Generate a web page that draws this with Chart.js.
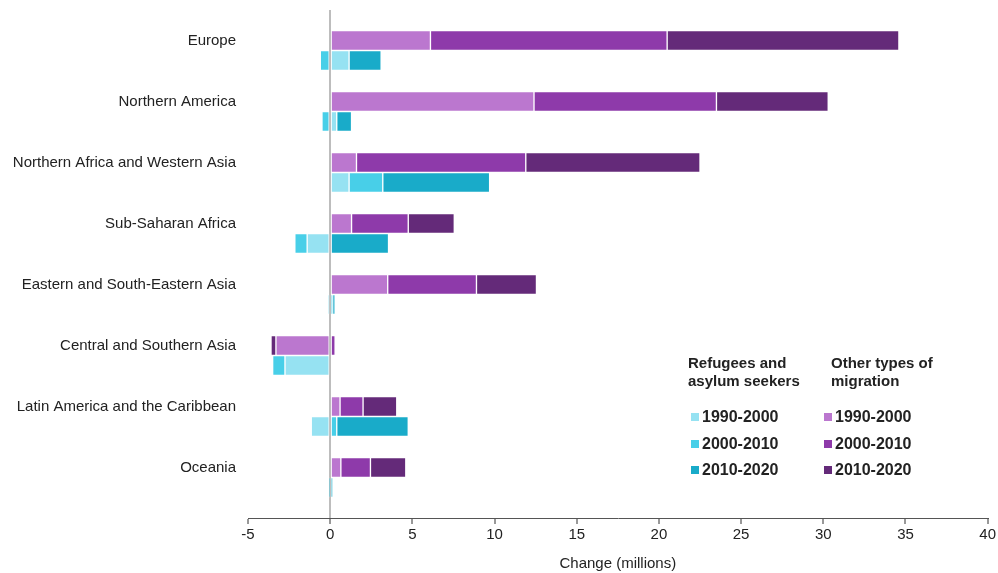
<!DOCTYPE html>
<html>
<head>
<meta charset="utf-8">
<script src="https://cdn.jsdelivr.net/npm/chart.js@4.4.1/dist/chart.umd.min.js"></script>
<style>
  body { margin: 0; background: #fff; font-family: "Liberation Sans", Arial, sans-serif; }
  #wrap { position: relative; width: 998px; height: 573px; }
  .lg { position: absolute; font-weight: bold; font-size: 15px; color: #222; line-height: 18px; white-space: nowrap; }
  .lg.item { font-size: 16px; }
  .lg .sw { display: inline-block; width: 8px; height: 8px; margin-right: 3px; vertical-align: 1px; }
</style>
</head>
<body>
<div id="wrap">
  <canvas id="chart" width="998" height="573"></canvas>
  <div id="legend"></div>
</div>
<script>
const categories = [
  "Europe",
  "Northern America",
  "Northern Africa and Western Asia",
  "Sub-Saharan Africa",
  "Eastern and South-Eastern Asia",
  "Central and Southern Asia",
  "Latin America and the Caribbean",
  "Oceania"
];
const periods = ["1990-2000", "2000-2010", "2010-2020"];

// other types of migration
const other1990 = [6.1, 12.4, 1.6, 1.3, 3.5, -3.3, 0.6, 0.65];
const other2000 = [14.4, 11.1, 10.3, 3.45, 5.4, 0.3, 1.4, 1.8];
const other2010 = [14.1, 6.8, 10.6, 2.8, 3.65, -0.3, 2.05, 2.15];

// refugees and asylum seekers
const ref1990 = [1.15, 0.4, 1.15, -1.4, -0.1, -2.75, -1.15, 0];
const ref2000 = [-0.6, -0.5, 2.05, -0.75, 0.15, -0.75, 0.4, -0.05];
const ref2010 = [1.95, 0.9, 6.5, 3.55, 0.15, 0, 4.35, 0.15];

const xTicks = [-5, 0, 5, 10, 15, 20, 25, 30, 35, 40];

const refColors = ["#96e2f2", "#48cfe8", "#19abc9"];
const otherColors = ["#bb77cf", "#8e3aaa", "#642a79"];

function toPoints(arr) {
  return arr.map((v, i) => ({ x: v, y: i }));
}

const otherSeries = [other1990, other2000, other2010];
const refSeries = [ref1990, ref2000, ref2010];

const datasets = [];
otherSeries.forEach((s, k) => datasets.push({
  label: "Other " + periods[k], stack: "other", data: toPoints(s),
  backgroundColor: otherColors[k]
}));
refSeries.forEach((s, k) => datasets.push({
  label: "Refugees " + periods[k], stack: "ref", data: toPoints(s),
  backgroundColor: refColors[k]
}));
datasets.forEach(d => {
  d.borderColor = "rgba(255,255,255,0.3)";
  d.borderWidth = 1;
  d.borderSkipped = false;
  d.barThickness = 20;
});

const font = { family: "'Liberation Sans', Arial, sans-serif", size: 15 };

new Chart(document.getElementById("chart"), {
  type: "bar",
  data: { datasets },
  options: {
    indexAxis: "y",
    responsive: false,
    animation: false,
    layout: { padding: { top: 10, right: 8, left: 0, bottom: 0 } },
    plugins: { legend: { display: false }, tooltip: { enabled: false } },
    scales: {
      x: {
        type: "linear",
        stacked: true,
        min: -5, max: 40,
        afterBuildTicks: s => { s.ticks = xTicks.map(v => ({ value: v })); },
        afterFit: s => { s.height = 55; },
        ticks: { font, color: "#222", padding: 2 },
        grid: {
          color: c => c.tick && c.tick.value === 0 ? "#bdbdbd" : "rgba(0,0,0,0)",
          lineWidth: 2,
          tickColor: "#333",
          tickWidth: 1,
          tickLength: 6
        },
        border: { display: true, color: "#555", width: 1 },
        title: { display: true, text: "Change (millions)", font, color: "#222", padding: { top: 4, bottom: 0 } }
      },
      y: {
        type: "linear",
        reverse: true,
        offset: false,
        bounds: "data",
        min: -0.664, max: 7.664,
        afterBuildTicks: s => { s.ticks = categories.map((c, i) => ({ value: i })); },
        afterFit: s => { s.width = 248; s.paddingTop = 0; s.paddingBottom = 0; },
        ticks: {
          autoSkip: false,
          font, color: "#222", padding: 12,
          labelOffset: -10,
          callback: v => categories[v] || ""
        },
        grid: { display: false, drawTicks: false },
        border: { display: false }
      }
    }
  }
});

// legend, two columns with headings
const legend = document.getElementById("legend");
function addText(x, y, html, cls) {
  const d = document.createElement("div");
  d.className = "lg" + (cls ? " " + cls : "");
  d.style.left = x + "px";
  d.style.top = y + "px";
  d.innerHTML = html;
  legend.appendChild(d);
}
addText(688, 354, "Refugees and<br>asylum seekers");
addText(831, 354, "Other types of<br>migration");
periods.forEach((p, k) => {
  const y = 408 + k * 26.5;
  addText(691, y, '<span class="sw" style="background:' + refColors[k] + '"></span>' + p, "item");
  addText(824, y, '<span class="sw" style="background:' + otherColors[k] + '"></span>' + p, "item");
});
</script>
</body>
</html>
